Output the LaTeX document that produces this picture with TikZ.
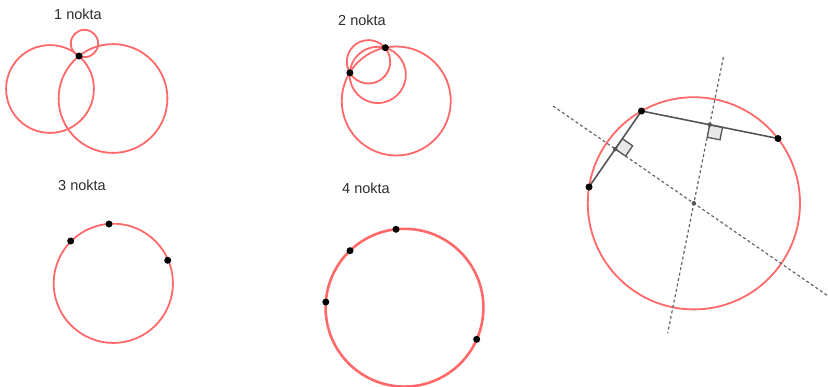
\documentclass[tikz,border=0pt]{standalone}
\usepackage{fontspec}
\setmainfont{Liberation Sans}
\definecolor{circ}{RGB}{255,105,105}
\definecolor{txt}{RGB}{45,45,45}
\definecolor{seg}{RGB}{85,85,85}
\definecolor{mark}{RGB}{232,232,232}
\begin{document}
\begin{tikzpicture}[x=1pt,y=-1pt,
  lbl/.style={font=\fontsize{14.5}{17}\selectfont, text=txt, inner sep=0pt},
  rc/.style={draw=circ, line width=1.8pt},
  rcthick/.style={draw=circ, line width=2.6pt},
  pt/.style={circle, fill=black, inner sep=0pt, minimum size=7pt},
  spt/.style={circle, fill=seg, inner sep=0pt, minimum size=4.5pt},
  segline/.style={draw=seg, line width=1.6pt},
  bis/.style={draw=seg!90, line width=1.2pt, dash pattern=on 3pt off 2.5pt},
  rmark/.style={draw=seg, fill=mark, line width=1.3pt}]
\useasboundingbox (0,0) rectangle (828,386);

% ---------- 1 nokta ----------
\node[lbl] (l1) at (78,14) {1 nokta};
\draw[rc] (50,89) circle[radius=43.9];
\draw[rc] (113,98.5) circle[radius=54.4];
\draw[rc] (84.5,43.5) circle[radius=13.7];
\node[pt] (p1) at (79,56) {};

% ---------- 2 nokta ----------
\node[lbl] (l2) at (362,20) {2 nokta};
\draw[rc] (368.5,61.8) circle[radius=21.7];
\draw[rc] (377.75,74.9) circle[radius=28.1];
\draw[rc] (396.25,101) circle[radius=54.5];
\node[pt] (q1) at (385.3,47.7) {};
\node[pt] (q2) at (349.9,72.8) {};

% ---------- 3 nokta ----------
\node[lbl] (l3) at (82,185) {3 nokta};
\draw[rc] (113.3,283.3) circle[radius=59.6];
\node[pt] (r1) at (70.7,241) {};
\node[pt] (r2) at (109,224) {};
\node[pt] (r3) at (167.7,260.3) {};

% ---------- 4 nokta ----------
\node[lbl] (l4) at (366,188) {4 nokta};
\draw[rcthick] (404.5,307.7) circle[radius=78.9];
\node[pt] (s1) at (396,229.3) {};
\node[pt] (s2) at (350,250.7) {};
\node[pt] (s3) at (325.8,302) {};
\node[pt] (s4) at (476.7,339.3) {};

% ---------- construction ----------
\coordinate (A) at (641.5,111);
\coordinate (B) at (778,138.5);
\coordinate (C) at (589,187);
\coordinate (O) at (693.9,203.3);
\coordinate (M1) at (709.75,124.75);
\coordinate (M2) at (615.25,149);
\coordinate (b1s) at (723.4,57);
\coordinate (b1e) at (667.7,333);
\coordinate (b2s) at (553,106);
\coordinate (b2e) at (830,297.3);

\draw[rc] (O) circle[radius=106.1];
\draw[bis] (b1s) -- (b1e);
\draw[bis] (b2s) -- (b2e);
% right-angle marks
\draw[rmark] (M1) -- ++(12.75,2.57) -- ++(-2.52,12.5) -- ++(-12.75,-2.57) -- cycle;
\draw[rmark] (M2) -- ++(7.1,-10.3) -- ++(10.3,7.1) -- ++(-7.1,10.3) -- cycle;
\draw[segline] (A) -- (B);
\draw[segline] (A) -- (C);
\node[spt] (m1) at (M1) {};
\node[spt] (m2) at (M2) {};
\node[spt] (o) at (O) {};
\node[pt] (a) at (A) {};
\node[pt] (b) at (B) {};
\node[pt] (c) at (C) {};
\end{tikzpicture}
\end{document}
